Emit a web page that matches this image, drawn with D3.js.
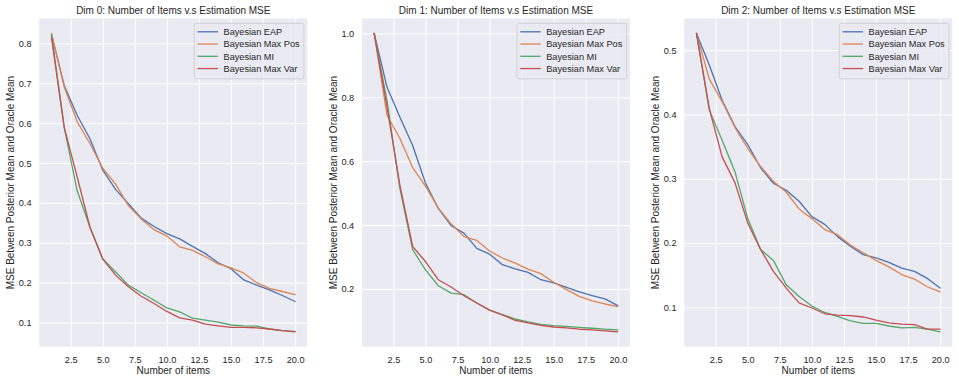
<!DOCTYPE html>
<html>
<head>
<meta charset="utf-8">
<script src="https://cdn.jsdelivr.net/npm/d3@7"></script>
<style>
  body { margin: 0; background: #ffffff; }
  text { font-family: "Liberation Sans", Arial, Helvetica, sans-serif; fill: #262626; }
</style>
</head>
<body>
<div id="chart"></div>
<script>
// data
var items = [1, 2, 3, 4, 5, 6, 7, 8, 9, 10, 11, 12, 13, 14, 15, 16, 17, 18, 19, 20];
var seriesNames = ["Bayesian EAP", "Bayesian Max Pos", "Bayesian MI", "Bayesian Max Var"];
var xTicks = [2.5, 5.0, 7.5, 10.0, 12.5, 15.0, 17.5, 20.0];

var dim0Eap    = [0.822, 0.694, 0.620, 0.561, 0.482, 0.434, 0.398, 0.362, 0.341, 0.323, 0.310, 0.291, 0.273, 0.250, 0.235, 0.207, 0.194, 0.182, 0.168, 0.153];
var dim0MaxPos = [0.825, 0.690, 0.604, 0.549, 0.487, 0.447, 0.393, 0.360, 0.333, 0.317, 0.290, 0.281, 0.265, 0.247, 0.237, 0.224, 0.200, 0.186, 0.178, 0.170];
var dim0Mi     = [0.822, 0.588, 0.431, 0.339, 0.260, 0.227, 0.194, 0.175, 0.156, 0.137, 0.127, 0.111, 0.106, 0.101, 0.094, 0.092, 0.091, 0.084, 0.080, 0.078];
var dim0MaxVar = [0.815, 0.588, 0.466, 0.339, 0.259, 0.219, 0.190, 0.166, 0.148, 0.128, 0.112, 0.106, 0.096, 0.092, 0.088, 0.088, 0.087, 0.084, 0.080, 0.077];
var dim0YTicks = [0.1, 0.2, 0.3, 0.4, 0.5, 0.6, 0.7, 0.8];

var dim1Eap    = [1.000, 0.832, 0.738, 0.649, 0.532, 0.452, 0.398, 0.375, 0.327, 0.309, 0.276, 0.263, 0.252, 0.229, 0.219, 0.205, 0.191, 0.179, 0.169, 0.148];
var dim1MaxPos = [1.000, 0.744, 0.672, 0.580, 0.522, 0.453, 0.404, 0.364, 0.352, 0.319, 0.297, 0.281, 0.262, 0.248, 0.221, 0.198, 0.177, 0.163, 0.153, 0.145];
var dim1Mi     = [1.000, 0.790, 0.516, 0.323, 0.260, 0.210, 0.187, 0.182, 0.156, 0.134, 0.120, 0.106, 0.097, 0.089, 0.085, 0.083, 0.080, 0.077, 0.074, 0.072];
var dim1MaxVar = [1.000, 0.770, 0.526, 0.333, 0.286, 0.229, 0.206, 0.179, 0.156, 0.134, 0.119, 0.102, 0.094, 0.086, 0.081, 0.078, 0.074, 0.072, 0.069, 0.066];
var dim1YTicks = [0.2, 0.4, 0.6, 0.8, 1.0];

var dim2Eap    = [0.526, 0.477, 0.422, 0.381, 0.353, 0.317, 0.293, 0.282, 0.265, 0.241, 0.229, 0.210, 0.195, 0.182, 0.177, 0.170, 0.161, 0.156, 0.145, 0.130];
var dim2MaxPos = [0.526, 0.455, 0.420, 0.380, 0.347, 0.319, 0.296, 0.279, 0.253, 0.238, 0.221, 0.213, 0.197, 0.185, 0.173, 0.163, 0.151, 0.144, 0.132, 0.124];
var dim2Mi     = [0.526, 0.407, 0.360, 0.311, 0.238, 0.190, 0.173, 0.135, 0.117, 0.102, 0.092, 0.086, 0.079, 0.075, 0.075, 0.071, 0.068, 0.069, 0.066, 0.062];
var dim2MaxVar = [0.526, 0.409, 0.334, 0.294, 0.231, 0.190, 0.156, 0.130, 0.107, 0.099, 0.090, 0.088, 0.087, 0.085, 0.080, 0.076, 0.074, 0.073, 0.066, 0.066];
var dim2YTicks = [0.1, 0.2, 0.3, 0.4, 0.5];

var titles = ["Dim 0: Number of Items v.s Estimation MSE",
              "Dim 1: Number of Items v.s Estimation MSE",
              "Dim 2: Number of Items v.s Estimation MSE"];
var xLabel = "Number of items";
var yLabel = "MSE Between Posterior Mean and Oracle Mean";

// seaborn "deep" palette
var colors = ["#4c72b0", "#dd8452", "#55a868", "#c44e52"];

var w = 959, h = 383;
var axTop = 18.5, axBottom = 346.7, axWidth = 268;
var axLefts = [39.3, 362, 684.3];

var svg = d3.select("#chart")
    .append("svg")
    .attr("width", w)
    .attr("height", h);

svg.append("rect")
    .attr("width", w)
    .attr("height", h)
    .attr("fill", "#ffffff");

// matplotlib style padding of 5% on both ends
function padded(values) {
    var ext = d3.extent(values);
    var pad = (ext[1] - ext[0]) * 0.05;
    return [ext[0] - pad, ext[1] + pad];
}

function drawPanel(i, series, yTicks) {
    var left = axLefts[i];
    var g = svg.append("g")
        .attr("transform", "translate(" + left + "," + axTop + ")");
    var height = axBottom - axTop;

    var x = d3.scaleLinear()
        .domain(padded(items))
        .range([0, axWidth]);

    var y = d3.scaleLinear()
        .domain(padded(d3.merge(series)))
        .range([height, 0]);

    g.append("rect")
        .attr("width", axWidth)
        .attr("height", height)
        .attr("fill", "#eaeaf2");

    // grid lines
    g.append("g")
        .attr("transform", "translate(0," + height + ")")
        .call(d3.axisBottom(x).tickValues(xTicks).tickSize(-height).tickFormat(""))
        .call(function (s) { s.select(".domain").remove(); })
        .selectAll("line").attr("stroke", "#ffffff").attr("stroke-width", 1);

    g.append("g")
        .call(d3.axisLeft(y).tickValues(yTicks).tickSize(-axWidth).tickFormat(""))
        .call(function (s) { s.select(".domain").remove(); })
        .selectAll("line").attr("stroke", "#ffffff").attr("stroke-width", 1);

    // tick labels
    var xAxis = g.append("g")
        .attr("transform", "translate(0," + height + ")")
        .call(d3.axisBottom(x).tickValues(xTicks).tickSize(0).tickPadding(0).tickFormat(d3.format(".1f")));
    xAxis.select(".domain").remove();
    xAxis.selectAll("text")
        .attr("y", 16)
        .attr("dy", 0)
        .attr("font-size", "9.2px")
        .attr("fill", "#262626");

    var yAxis = g.append("g")
        .call(d3.axisLeft(y).tickValues(yTicks).tickSize(0).tickPadding(7.8).tickFormat(d3.format(".1f")));
    yAxis.select(".domain").remove();
    yAxis.selectAll("text")
        .attr("font-size", "9.2px")
        .attr("fill", "#262626");

    // the lines
    var line = d3.line()
        .x(function (d, k) { return x(items[k]); })
        .y(function (d) { return y(d); });

    series.forEach(function (s, k) {
        g.append("path")
            .datum(s)
            .attr("d", line)
            .attr("fill", "none")
            .attr("stroke", colors[k])
            .attr("stroke-width", 1.3)
            .attr("stroke-linejoin", "round")
            .attr("stroke-linecap", "round");
    });

    // title and axis labels
    g.append("text")
        .attr("x", axWidth / 2)
        .attr("y", 13.5 - axTop)
        .attr("text-anchor", "middle")
        .attr("font-size", "10px")
        .text(titles[i]);

    g.append("text")
        .attr("x", axWidth / 2)
        .attr("y", 373.5 - axTop)
        .attr("text-anchor", "middle")
        .attr("font-size", "10px")
        .text(xLabel);

    g.append("text")
        .attr("transform", "translate(-25.5," + height / 2 + ") rotate(-90)")
        .attr("text-anchor", "middle")
        .attr("font-size", "10px")
        .text(yLabel);

    // legend, upper right
    var legend = g.append("g");
    var box = legend.append("rect")
        .attr("rx", 2)
        .attr("ry", 2)
        .attr("fill", "#eaeaf2")
        .attr("fill-opacity", 0.8)
        .attr("stroke", "#cccccc")
        .attr("stroke-width", 0.8);

    var maxW = 0;
    seriesNames.forEach(function (name, k) {
        var cy = 8.5 + k * 12.25;
        legend.append("line")
            .attr("x1", 3.3)
            .attr("x2", 23.8)
            .attr("y1", cy)
            .attr("y2", cy)
            .attr("stroke", colors[k])
            .attr("stroke-width", 1.3);
        var t = legend.append("text")
            .attr("x", 29.3)
            .attr("y", cy)
            .attr("dy", "0.35em")
            .attr("font-size", "9.2px")
            .text(name);
        maxW = Math.max(maxW, t.node().getComputedTextLength());
    });
    var boxW = 29.3 + maxW + 4.3;
    box.attr("width", boxW).attr("height", 55.5);
    legend.attr("transform", "translate(" + (axWidth - 3.4 - boxW) + ",4.8)");
}

drawPanel(0, [dim0Eap, dim0MaxPos, dim0Mi, dim0MaxVar], dim0YTicks);
drawPanel(1, [dim1Eap, dim1MaxPos, dim1Mi, dim1MaxVar], dim1YTicks);
drawPanel(2, [dim2Eap, dim2MaxPos, dim2Mi, dim2MaxVar], dim2YTicks);
</script>
</body>
</html>
